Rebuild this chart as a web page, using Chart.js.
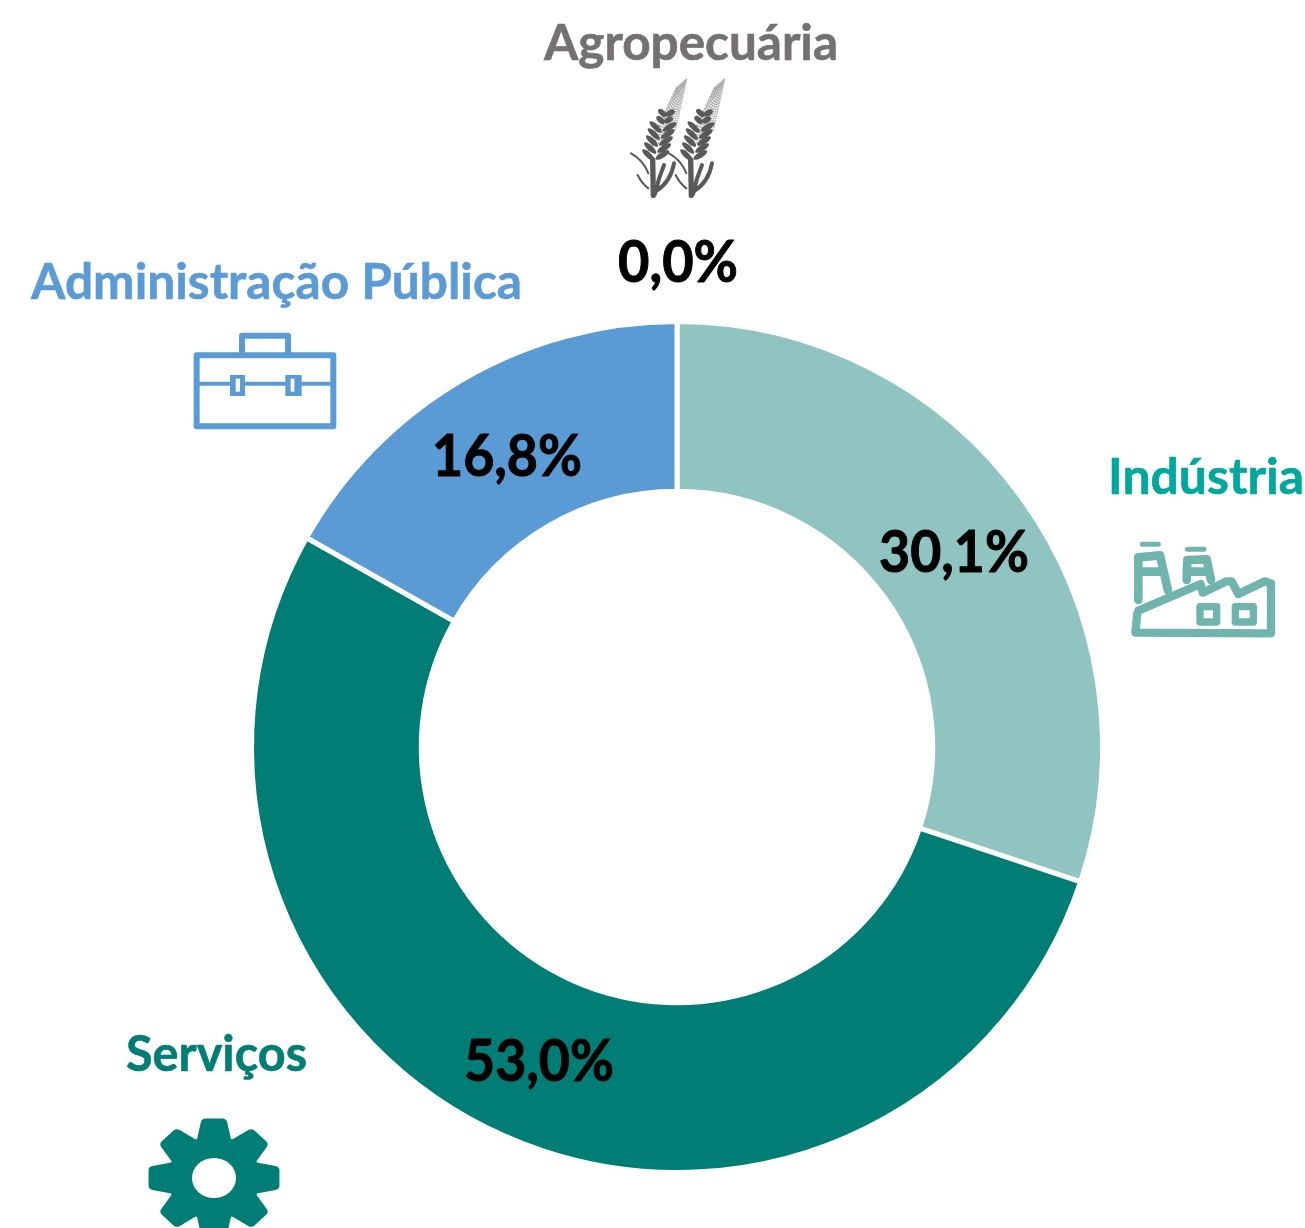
<!DOCTYPE html>
<html>
<head>
<meta charset="utf-8">
<title>Agropecuária, Indústria, Serviços, Administração Pública</title>
<script src="https://cdn.jsdelivr.net/npm/chart.js@4"></script>
<style>
html, body { margin: 0; padding: 0; background: #fff; overflow: hidden; }
#wrap { position: absolute; left: 0; top: 0; width: 1305px; height: 1228px; }
</style>
</head>
<body>
<div id="wrap"><canvas id="doughnut-chart"></canvas></div>
<script>
const categories = ["Indústria", "Serviços", "Administração Pública", "Agropecuária"];
const shares = [30.1, 53.0, 16.8, 0.0];
const sliceColors = ["#90C4C0", "#007D75", "#5B9BD5", "#767171"];
const nameColors = ["#00A79D", "#007D75", "#5B9BD5", "#767171"];

// x, baseline y, max width of the texts
const namePos = [[1108, 494, 196], [126, 1071, 181], [31, 299, 491], [544, 60, 294]];
const valuePos = [[879, 572, 150], [464, 1081, 150], [432, 476, 150], [618, 282, 120]];

function pct(v) {
	return v.toFixed(1).replace(".", ",") + "%";
}

function drawWheat(ctx, ox) {
	ctx.save();
	ctx.translate(600 + ox, 70);
	ctx.scale(1 / 3, 1 / 3);
	ctx.strokeStyle = "#595959";
	ctx.fillStyle = "#595959";
	ctx.lineCap = "round";
	// stem and leaves
	ctx.lineWidth = 16;
	ctx.beginPath(); ctx.moveTo(160, 376); ctx.lineTo(158, 270); ctx.stroke();
	ctx.lineWidth = 12;
	ctx.beginPath(); ctx.moveTo(165, 372); ctx.quadraticCurveTo(175, 325, 192, 285); ctx.stroke();
	ctx.beginPath(); ctx.moveTo(170, 362); ctx.quadraticCurveTo(212, 335, 222, 280); ctx.stroke();
	ctx.lineWidth = 6;
	ctx.beginPath(); ctx.moveTo(93, 250); ctx.quadraticCurveTo(130, 270, 145, 310); ctx.stroke();
	ctx.beginPath(); ctx.moveTo(113, 315); ctx.quadraticCurveTo(125, 340, 145, 355); ctx.stroke();
	// awns, small dots fanning out towards the tip
	ctx.fillStyle = "rgba(89,89,89,0.45)";
	for (let a = 0; a < 10; a++) {
		for (let d = 0; d < 24; d++) {
			const t = d / 23;
			const x = 136 + a * 10 + t * (92 - a * 6.5);
			const y = 250 - a * 8 - t * (195 - a * 5);
			ctx.beginPath();
			ctx.arc(x, y, 2.8, 0, Math.PI * 2);
			ctx.fill();
		}
	}
	// grains, dark at the base of the ear
	ctx.fillStyle = "#595959";
	for (let i = 0; i < 7; i++) {
		const cx = 166 + i * 5.5;
		const cy = 258 - i * 21;
		const spread = i > 4 ? 12 : 21;
		[-1, 1].forEach(function (side) {
			ctx.save();
			ctx.translate(cx + side * spread, cy - 3);
			ctx.rotate(side < 0 ? 0.75 : -0.55);
			ctx.beginPath();
			ctx.ellipse(0, 0, spread + 3, 8.5, 0, 0, Math.PI * 2);
			ctx.fill();
			ctx.restore();
		});
	}
	ctx.restore();
}

function drawFactory(ctx) {
	ctx.save();
	ctx.translate(1110, 520);
	ctx.scale(1 / 3, 1 / 3);
	ctx.strokeStyle = "#6FB5AE";
	ctx.lineJoin = "round";
	ctx.lineCap = "round";
	ctx.lineWidth = 25;
	ctx.beginPath();
	ctx.moveTo(82, 280); ctx.lineTo(76, 338); ctx.lineTo(483, 340); ctx.lineTo(483, 190);
	ctx.lineTo(465, 184); ctx.lineTo(385, 222); ctx.lineTo(365, 184); ctx.lineTo(350, 184);
	ctx.lineTo(278, 218); ctx.lineTo(272, 192); ctx.lineTo(85, 272);
	ctx.stroke();
	// chimneys
	ctx.lineWidth = 26;
	ctx.beginPath();
	ctx.moveTo(85, 240); ctx.lineTo(85, 112); ctx.lineTo(150, 106); ctx.lineTo(174, 212);
	ctx.moveTo(85, 155); ctx.lineTo(160, 155);
	ctx.moveTo(230, 180); ctx.lineTo(232, 120); ctx.lineTo(290, 118); ctx.lineTo(303, 180);
	ctx.moveTo(230, 155); ctx.lineTo(295, 155);
	ctx.stroke();
	ctx.lineWidth = 15;
	ctx.beginPath();
	ctx.moveTo(97, 73); ctx.lineTo(145, 73);
	ctx.moveTo(232, 88); ctx.lineTo(282, 88);
	ctx.stroke();
	// windows
	ctx.lineWidth = 22;
	ctx.strokeRect(270, 260, 50, 46);
	ctx.strokeRect(376, 260, 54, 46);
	ctx.restore();
}

function drawCase(ctx) {
	ctx.save();
	ctx.translate(170, 320);
	ctx.scale(1 / 3, 1 / 3);
	ctx.strokeStyle = "#5B9BD5";
	ctx.lineJoin = "round";
	ctx.lineWidth = 18;
	ctx.strokeRect(80, 106, 410, 213);
	ctx.beginPath();
	ctx.moveTo(216, 105); ctx.lineTo(216, 47); ctx.lineTo(354, 47); ctx.lineTo(354, 105);
	ctx.stroke();
	ctx.lineWidth = 12;
	ctx.beginPath(); ctx.moveTo(80, 191); ctx.lineTo(490, 191); ctx.stroke();
	[[180, 45, 197, 13], [346, 49, 362, 11]].forEach(function (c) {
		ctx.fillStyle = "#5B9BD5";
		ctx.fillRect(c[0], 165, c[1], 63);
		ctx.fillStyle = "#fff";
		ctx.fillRect(c[2], 176, c[3], 39);
	});
	ctx.restore();
}

function drawGear(ctx) {
	ctx.save();
	ctx.translate(214, 1178);
	ctx.scale(1.1, 1);
	ctx.fillStyle = "#007D75";
	ctx.strokeStyle = "#007D75";
	ctx.lineJoin = "round";
	ctx.lineWidth = 9;
	ctx.beginPath();
	ctx.arc(0, 0, 42, 0, Math.PI * 2);
	ctx.fill();
	for (let i = 0; i < 8; i++) {
		ctx.save();
		ctx.rotate(i * Math.PI / 4);
		ctx.beginPath();
		ctx.moveTo(-11, -38); ctx.lineTo(-7.5, -55); ctx.lineTo(7.5, -55); ctx.lineTo(11, -38);
		ctx.closePath();
		ctx.fill();
		ctx.stroke();
		ctx.restore();
	}
	ctx.fillStyle = "#fff";
	ctx.beginPath();
	ctx.arc(0, 0, 20, 0, Math.PI * 2);
	ctx.fill();
	ctx.restore();
}

const textAndIcons = {
	id: "textAndIcons",
	afterDraw: function (chart) {
		const ctx = chart.ctx;
		ctx.save();
		ctx.textAlign = "left";
		ctx.textBaseline = "alphabetic";
		ctx.lineJoin = "round";
		ctx.font = "bold 50px Lato";
		ctx.lineWidth = 0.6;
		categories.forEach(function (name, i) {
			ctx.fillStyle = nameColors[i];
			ctx.strokeStyle = nameColors[i];
			ctx.fillText(name, namePos[i][0], namePos[i][1], namePos[i][2]);
			ctx.strokeText(name, namePos[i][0], namePos[i][1], namePos[i][2]);
		});
		ctx.font = "bold 58px Lato";
		ctx.lineWidth = 1;
		ctx.fillStyle = "#000";
		ctx.strokeStyle = "#000";
		shares.forEach(function (v, i) {
			ctx.fillText(pct(v), valuePos[i][0], valuePos[i][1], valuePos[i][2]);
			ctx.strokeText(pct(v), valuePos[i][0], valuePos[i][1], valuePos[i][2]);
		});
		ctx.restore();
		drawWheat(ctx, 0);
		drawWheat(ctx, 38);
		drawFactory(ctx);
		drawCase(ctx);
		drawGear(ctx);
	}
};

new Chart(document.getElementById("doughnut-chart"), {
	type: 'doughnut',
	data: {
		labels: categories,
		datasets: [
			{
				backgroundColor: sliceColors,
				borderColor: "#fff",
				borderWidth: 5,
				data: shares
			}
		]
	},
	options: {
		responsive: true,
		maintainAspectRatio: false,
		animation: false,
		cutout: "60.1%",
		layout: { padding: { left: 249, right: 200, top: 319, bottom: 53 } },
		plugins: {
			legend: { display: false },
			tooltip: { enabled: false }
		}
	},
	plugins: [textAndIcons]
});
</script>
</body>
</html>
